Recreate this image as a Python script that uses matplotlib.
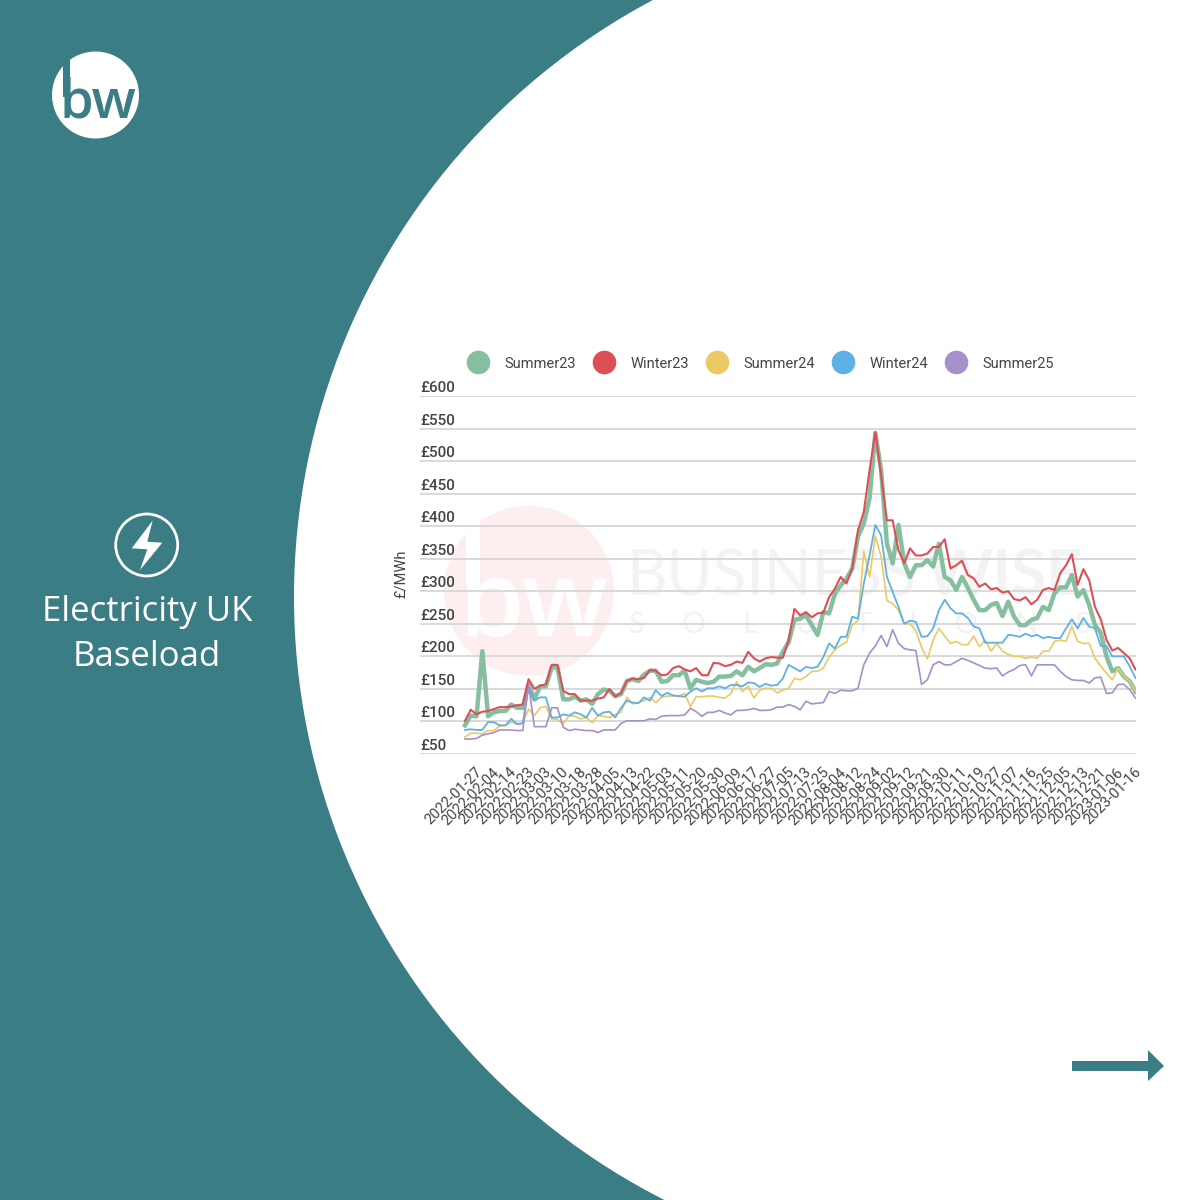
import matplotlib
matplotlib.use('Agg')
import matplotlib.pyplot as plt
import matplotlib.patches as mpatches
from matplotlib.lines import Line2D
from matplotlib.transforms import ScaledTranslation
import numpy as np

# values, one sample every second trading day
summer23 = [94,109,108,208,108,114,116,116,126,121,
            121,157,134,154,154,183,183,134,134,138,
            132,134,127,142,149,147,139,142,162,165,
            162,172,178,178,161,162,171,171,178,151,
            164,161,159,161,169,169,170,177,171,184,
            177,182,188,187,189,207,222,256,258,263,
            248,233,268,266,296,309,319,335,384,404,
            443,543,486,373,343,402,343,322,340,340,
            348,338,373,322,317,302,322,305,287,271,
            271,279,282,262,284,261,248,248,256,259,
            276,271,297,306,306,325,292,302,279,248,
            236,200,177,182,169,162,146]
winter23 = [101,118,111,115,116,119,122,122,123,125,
            126,165,150,155,157,187,187,147,142,142,
            132,132,132,135,137,150,138,144,162,166,
            165,167,179,178,171,172,182,185,180,177,
            182,171,171,190,189,185,187,192,190,207,
            197,192,197,199,198,198,225,273,263,268,
            260,266,267,291,304,322,312,335,394,422,
            486,545,478,409,409,363,343,366,355,355,
            358,368,368,380,335,340,347,325,320,307,
            312,303,305,298,300,288,286,291,280,287,
            302,305,302,328,340,357,310,334,317,276,
            257,225,209,213,205,197,180]
summer24 = [76,82,82,81,86,86,93,94,99,96,
            98,119,109,121,123,104,103,96,109,108,
            104,106,98,109,108,106,111,114,137,127,
            129,132,137,129,137,139,139,139,143,123,
            138,138,139,139,137,136,143,161,146,154,
            136,148,151,151,144,148,151,166,164,169,
            177,177,182,199,210,217,222,248,255,361,
            322,385,353,286,281,271,250,250,240,214,
            196,225,243,231,220,223,218,218,231,215,
            225,208,220,208,203,200,200,197,199,197,
            208,208,223,225,223,246,223,220,220,197,
            185,174,164,182,169,162,146]
winter24 = [87,88,87,87,99,99,94,94,104,96,
            97,155,132,137,137,106,106,111,109,114,
            111,106,121,109,114,115,106,121,132,129,
            128,137,132,148,139,144,140,139,138,146,
            151,146,151,151,154,151,156,156,154,160,
            159,153,158,155,156,166,187,182,177,184,
            182,184,199,220,212,230,230,261,258,312,
            355,402,386,322,299,276,250,255,253,230,
            231,243,271,287,274,266,266,259,246,243,
            221,221,221,221,233,232,230,235,231,233,
            228,230,228,228,243,257,243,259,246,243,
            216,216,200,200,200,185,167]
summer25 = [73,73,74,79,81,83,87,87,87,86,
            86,157,92,92,92,121,121,91,86,88,
            87,86,86,83,87,87,87,97,101,101,
            101,101,104,103,108,109,109,109,110,120,
            115,108,114,114,117,113,110,117,117,118,
            120,117,117,118,122,122,126,123,118,131,
            127,128,129,146,143,148,147,147,151,187,
            205,216,232,215,241,220,212,210,209,157,
            164,187,192,187,187,192,197,194,190,186,
            182,181,182,170,176,180,186,187,170,187,
            187,187,187,177,169,164,163,163,159,167,
            168,143,144,157,157,149,136]

dates = ['2022-01-27','2022-02-04','2022-02-14','2022-02-23','2022-03-03','2022-03-10',
         '2022-03-18','2022-03-28','2022-04-05','2022-04-13','2022-04-22','2022-05-03',
         '2022-05-11','2022-05-20','2022-05-30','2022-06-09','2022-06-17','2022-06-27',
         '2022-07-05','2022-07-13','2022-07-25','2022-08-04','2022-08-12','2022-08-24',
         '2022-09-02','2022-09-12','2022-09-21','2022-09-30','2022-10-11','2022-10-19',
         '2022-10-27','2022-11-07','2022-11-16','2022-11-25','2022-12-05','2022-12-13',
         '2022-12-21','2023-01-06','2023-01-16']
yvals = [50,100,150,200,250,300,350,400,450,500,550,600]
names = ['Summer23','Winter23','Summer24','Winter24','Summer25']
colors = ['#86bfa0','#dd4f55','#edc963','#5cb2e5','#a78fc9']

teal = '#3a7d85'
txt = '#444444'
W = 1200.0

fig = plt.figure(figsize=(12,12), dpi=100, facecolor=teal)

# background panel, in image pixels
bg = fig.add_axes([0,0,1,1], zorder=0)
bg.set_xlim(0,W); bg.set_ylim(W,0); bg.axis('off')
bg.add_patch(mpatches.Circle((970,597), 676, fc='white', ec='none'))

# logo
bg.add_patch(mpatches.Circle((95.5,95), 43.5, fc='white', ec='none'))
bg.text(98,118, 'bw', color=teal, fontsize=39, family='Open Sans', weight='semibold', ha='center', va='baseline')
bg.add_patch(mpatches.Rectangle((63,57), 7, 40, fc=teal, ec='none'))

# bolt icon
bg.add_patch(mpatches.Circle((146.7,545), 31, fc='none', ec='white', lw=2))
bg.add_patch(mpatches.Polygon([(152.7,520.5),(131.7,548.3),(147.3,549.3),(140,570),(162.3,542.7),(147.3,541.7)],
                              closed=True, fc='white', ec='none'))
bg.text(147,612, 'Electricity UK', color='white', fontsize=25, family='Open Sans', ha='center', va='center')
bg.text(147,657, 'Baseload', color='white', fontsize=25, family='Open Sans', ha='center', va='center')

# arrow bottom right
bg.add_patch(mpatches.Polygon([(1072,1061),(1148,1061),(1148,1050),(1164,1066),(1148,1081),(1148,1071),(1072,1071)],
                              closed=True, fc=teal, ec='none'))

# watermark
bg.add_patch(mpatches.Circle((529,591), 85, fc='#fdeef0', ec='none'))
bg.text(533,636, 'bw', color='white', fontsize=76, family='Open Sans', weight='semibold', ha='center', va='baseline')
bg.add_patch(mpatches.Rectangle((466,505), 14, 80, fc='white', ec='none'))
bg.text(626,595, 'BUSINESS', color='#f3f3f3', fontsize=45, family='Lato', ha='left', va='baseline')
bg.text(925,595, 'WISE', color='#f3f3f3', fontsize=46, family='Lato', weight='bold', ha='left', va='baseline')
bg.text(629,633, 'S     O     L     U     T     I     O     N     S', color='#f2f2f2', fontsize=21,
        family='Lato', ha='left', va='baseline')

# chart
ax = fig.add_axes([420/W, 1-754/W, (1136-420)/W, (754-396)/W], zorder=1)
ax.patch.set_alpha(0)
for s in ax.spines.values():
    s.set_visible(False)

x = np.arange(len(summer23))*2
series = [summer23, winter23, summer24, winter24, summer25]
widths = [3.2, 1.5, 1.2, 1.3, 1.2]
order = [1, 6, 3, 4, 5]
for vals, c, lw, z in zip(series, colors, widths, order):
    ax.plot(x, vals, color=c, lw=lw, zorder=3+z/10.0, solid_joinstyle='round')

ax.set_xlim(-15.57, 232.2)
ax.set_ylim(50, 600)
ax.set_yticks(yvals)
ax.set_yticklabels(['£%d' % v for v in yvals], family='Roboto', weight='medium', fontsize=11, color=txt,
                   ha='left', va='bottom')
ax.yaxis.grid(True, color='#d9d9d9', lw=1.4)
ax.set_axisbelow(True)
ax.tick_params(axis='y', length=0, pad=0)
ytrans = ScaledTranslation(0, 1/100.0, fig.dpi_scale_trans)
for lab in ax.get_yticklabels():
    lab.set_transform(lab.get_transform() + ytrans)

ax.set_xticks(x[::3][:len(dates)])
ax.set_xticklabels(dates, rotation=45, ha='right', va='top', rotation_mode='anchor',
                   family='Roboto', fontsize=10.6, color=txt)
ax.tick_params(axis='x', length=0, pad=8)
xtrans = ScaledTranslation(10/100.0, 0, fig.dpi_scale_trans)
for lab in ax.get_xticklabels():
    lab.set_transform(lab.get_transform() + xtrans)

ax.text(401, 574, '£/MWh', transform=bg.transData, rotation=90, ha='center', va='center',
        family='Roboto', fontsize=10.5, color=txt)

handles = [Line2D([],[], ls='none', marker='o', ms=17, mfc=c, mec='none') for c in colors]
leg = ax.legend(handles, names, ncol=5, frameon=False, loc='center left',
                bbox_to_anchor=(462/W, 1-363.5/W), bbox_transform=fig.transFigure,
                prop={'family':'Roboto','size':10.5}, labelcolor=txt, borderpad=0, borderaxespad=0,
                handlelength=2.2, handletextpad=0.7, columnspacing=0.83)

fig.savefig('out.png', dpi=100, facecolor=teal)
